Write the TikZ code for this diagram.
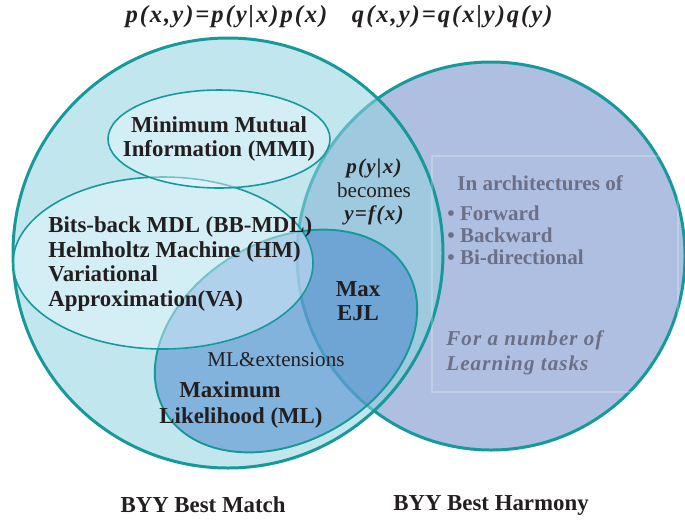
\documentclass[tikz,border=0pt]{standalone}
\usepackage{fontspec}
\setmainfont{Liberation Serif}

\definecolor{tealline}{RGB}{22,153,154}
\definecolor{harmonyfill}{RGB}{175,191,225}
\definecolor{matchfill}{RGB}{146,210,223}
\definecolor{mlfill}{RGB}{66,130,203}
\definecolor{palefill}{RGB}{235,248,255}
\definecolor{ink}{RGB}{35,31,32}
\definecolor{inkgray}{RGB}{108,112,135}

\begin{document}
\begin{tikzpicture}[x=0.02cm,y=-0.02cm,
                    big set/.style={draw=tealline,line width=1.7pt},
                    sub set/.style={draw=tealline,line width=1.1pt,fill=mlfill,fill opacity=0.5},
                    pale set/.style={draw=tealline,line width=0.9pt,fill=palefill,fill opacity=0.44},
                    set label/.style={font=\fontsize{13}{14}\selectfont\bfseries,text=ink,inner sep=0pt},
                    plain label/.style={font=\fontsize{12}{13.5}\selectfont,text=ink,inner sep=0pt},
                    gray label/.style={font=\fontsize{12}{12.5}\selectfont\bfseries,text=inkgray,inner sep=0pt},
                    formula/.style={font=\fontsize{14}{16}\selectfont\bfseries\itshape\addfontfeature{LetterSpace=8},text=ink,inner sep=0pt}]
    \useasboundingbox (0,0) rectangle (685,522);
    \coordinate (match center) at (228,253);
    \coordinate (harmony center) at (491,256);
    \coordinate (mmi center) at (219,139);
    \coordinate (bbmdl center) at (163,263);
    \coordinate (ml center) at (286,341);

    % the two BYY sets
    \draw[big set,fill=harmonyfill] (harmony center) circle[radius=194];
    \fill[matchfill,fill opacity=0.56] (match center) circle[radius=215];
    \draw[big set] (match center) circle[radius=215];

    % nested sets
    \draw[sub set,shift={(ml center)},rotate=30] (0,0) ellipse[x radius=140,y radius=100];
    \draw[pale set] (bbmdl center) ellipse[x radius=150,y radius=86];
    \draw[pale set] (mmi center) ellipse[x radius=111,y radius=49];

    % text box in the harmony set
    \draw[white,opacity=0.22,line width=0.6pt] (432,156) rectangle (678,392);

    \node[formula] (joint) at (339,17) {p(x,y)=p(y|x)p(x)\hspace{14pt}q(x,y)=q(x|y)q(y)};

    \node[set label,align=center] (mmi) at (mmi center) {Minimum Mutual\\Information (MMI)};
    \node[set label,align=left,anchor=west] (bbmdl) at (48,264)
        {Bits-back MDL (BB-MDL)\\Helmholtz Machine (HM)\\Variational\\Approximation(VA)};
    \node[plain label,align=center] (cond) at (374,192)
        {\bfseries\itshape\addfontfeature{LetterSpace=6}p(y|x)\\becomes\\\bfseries\itshape\addfontfeature{LetterSpace=6}y=f(x)};
    \node[set label,align=center] (ejl) at (358,301) {Max\\EJL};
    \node[plain label] (mlext) at (276,360) {ML\&extensions};
    \node[set label] (maxml) at (230,390) {Maximum};
    \node[set label] (ml) at (241,418) {Likelihood (ML)};

    \node[gray label,anchor=west] (arch) at (457,183) {In architectures of};
    \node[gray label,align=left,anchor=west] (dirs) at (447,235)
        {\textbullet\ Forward\\\textbullet\ Backward\\\textbullet\ Bi-directional};
    \node[gray label,align=left,anchor=west,font=\fontsize{12}{14}\selectfont\bfseries\itshape\addfontfeature{LetterSpace=5}] (tasks) at (446,353)
        {For a number of\\Learning tasks};

    \node[set label] (match) at (203,505) {BYY Best Match};
    \node[set label] (harmony) at (491,505) {BYY Best Harmony};
\end{tikzpicture}
\end{document}
